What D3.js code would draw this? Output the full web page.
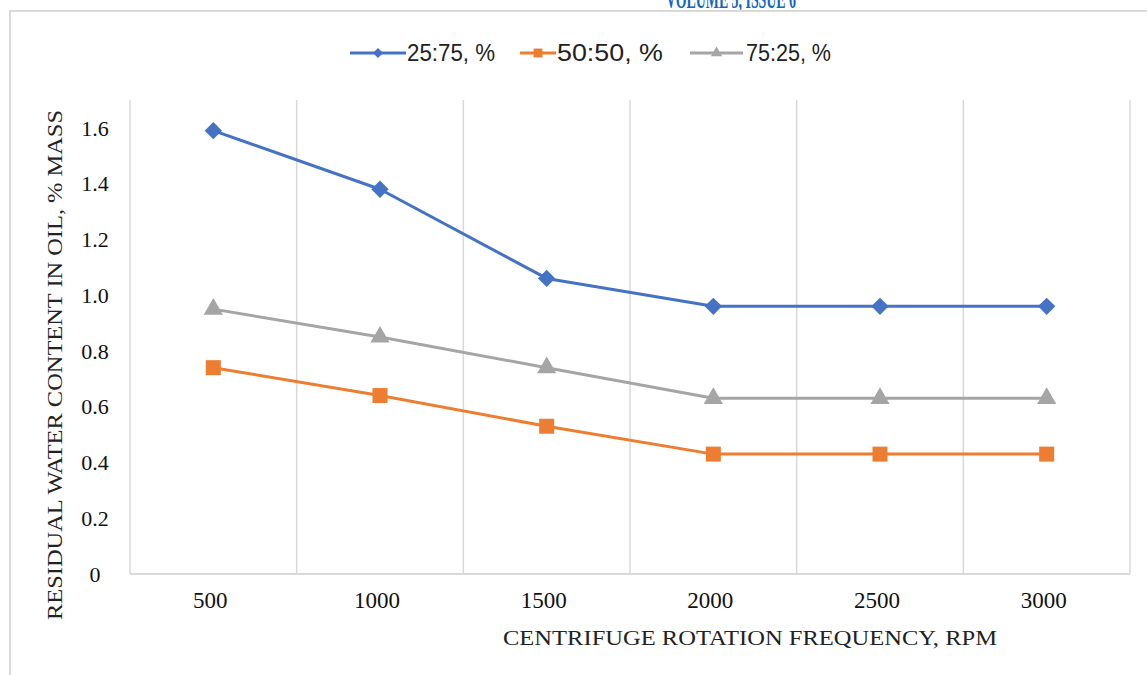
<!DOCTYPE html>
<html>
<head>
<meta charset="utf-8">
<script src="https://cdn.jsdelivr.net/npm/d3@7.9.0/dist/d3.min.js"></script>
<style>
  body { margin: 0; background: #fff; }
  svg { display: block; }
</style>
</head>
<body>
<svg id="chart" width="1147" height="675"></svg>
<script>
// rotation frequency categories (rpm)
const categories = ['500', '1000', '1500', '2000', '2500', '3000'];

// residual water content, % mass
const ratio2575 = [1.59, 1.38, 1.06, 0.96, 0.96, 0.96];
const ratio5050 = [0.74, 0.64, 0.53, 0.43, 0.43, 0.43];
const ratio7525 = [0.95, 0.85, 0.74, 0.63, 0.63, 0.63];

const seriesNames = ['25:75, %', '50:50, %', '75:25, %'];

const yTicks = [0, 0.2, 0.4, 0.6, 0.8, 1.0, 1.2, 1.4, 1.6];
const yTickLabels = ['0', '0.2', '0.4', '0.6', '0.8', '1.0', '1.2', '1.4', '1.6'];

const series = [
  { name: seriesNames[0], values: ratio2575, color: '#4472C4', shape: 'diamond' },
  { name: seriesNames[1], values: ratio5050, color: '#ED7D31', shape: 'square' },
  { name: seriesNames[2], values: ratio7525, color: '#A5A5A5', shape: 'triangle' }
];

const svg = d3.select('#chart');
const serif = '"Liberation Serif", "Times New Roman", serif';
const sans = '"Liberation Sans", Arial, sans-serif';

const plot = { left: 130, right: 1130, top: 100, bottom: 574 };

const x = d3.scaleBand().domain(categories).range([plot.left, plot.right]).padding(0);
const y = d3.scaleLinear().domain([0, 1.7]).range([plot.bottom, plot.top]);

// journal header, mostly cut off at the top of the page
svg.append('text')
  .attr('x', 731).attr('y', 8)
  .attr('text-anchor', 'middle')
  .attr('font-family', serif)
  .attr('font-weight', 'bold')
  .attr('font-size', 27)
  .attr('fill', '#1565C0')
  .attr('textLength', 130)
  .attr('lengthAdjust', 'spacingAndGlyphs')
  .text('VOLUME 5, ISSUE 6');

// chart frame (runs off the page right and bottom)
svg.append('rect')
  .attr('x', 10).attr('y', 11)
  .attr('width', 1200).attr('height', 700)
  .attr('fill', 'none')
  .attr('stroke', '#D9D9D9')
  .attr('stroke-width', 2);

// vertical gridlines on category boundaries
const bounds = categories.map(c => x(c)).concat([plot.right]);
svg.append('g')
  .selectAll('line')
  .data(bounds)
  .join('line')
  .attr('x1', d => d).attr('x2', d => d)
  .attr('y1', plot.top).attr('y2', plot.bottom)
  .attr('stroke', '#D9D9D9')
  .attr('stroke-width', 1.5);

// bottom axis line
svg.append('line')
  .attr('x1', plot.left).attr('x2', plot.right)
  .attr('y1', plot.bottom).attr('y2', plot.bottom)
  .attr('stroke', '#D9D9D9')
  .attr('stroke-width', 2);

// y tick labels
svg.append('g')
  .selectAll('text')
  .data(yTicks)
  .join('text')
  .attr('x', 95)
  .attr('y', d => y(d))
  .attr('dy', '0.35em')
  .attr('text-anchor', 'middle')
  .attr('font-family', serif)
  .attr('font-size', 22)
  .attr('fill', '#111')
  .text((d, i) => yTickLabels[i]);

// x tick labels
svg.append('g')
  .selectAll('text')
  .data(categories)
  .join('text')
  .attr('x', d => x(d) + x.bandwidth() / 2 - 3)
  .attr('y', 600)
  .attr('dy', '0.35em')
  .attr('text-anchor', 'middle')
  .attr('font-family', serif)
  .attr('font-size', 23)
  .attr('fill', '#111')
  .text(d => d);

// axis titles
svg.append('text')
  .attr('x', 750).attr('y', 645)
  .attr('text-anchor', 'middle')
  .attr('font-family', serif)
  .attr('font-size', 22)
  .attr('fill', '#222')
  .attr('textLength', 494)
  .attr('lengthAdjust', 'spacingAndGlyphs')
  .text('CENTRIFUGE ROTATION FREQUENCY, RPM');

svg.append('text')
  .attr('transform', 'translate(62,365) rotate(-90)')
  .attr('text-anchor', 'middle')
  .attr('font-family', serif)
  .attr('font-size', 22)
  .attr('fill', '#222')
  .attr('textLength', 510)
  .attr('lengthAdjust', 'spacingAndGlyphs')
  .text('RESIDUAL WATER CONTENT IN OIL, % MASS');

function symbolPath(shape, scale) {
  if (shape === 'diamond') return d3.symbol(d3.symbolSquare, 150 * scale)();
  if (shape === 'square') return d3.symbol(d3.symbolSquare, 225 * scale)();
  return d3.symbol(d3.symbolTriangle, 160 * scale)();
}

const line = d3.line()
  .x((d, i) => x(categories[i]) + x.bandwidth() / 2)
  .y(d => y(d));

// series lines and markers
series.forEach(s => {
  const g = svg.append('g');
  g.append('path')
    .datum(s.values)
    .attr('d', line)
    .attr('fill', 'none')
    .attr('stroke', s.color)
    .attr('stroke-width', 3)
    .attr('stroke-linejoin', 'round');

  g.selectAll('path.marker')
    .data(s.values)
    .join('path')
    .attr('class', 'marker')
    .attr('d', symbolPath(s.shape, 1))
    .attr('transform', (d, i) => {
      const cx = x(categories[i]) + x.bandwidth() / 2;
      const rot = s.shape === 'diamond' ? ' rotate(45)' : '';
      return `translate(${cx},${y(d)})${rot}`;
    })
    .attr('fill', s.color);
});

// legend
const legendItems = [
  { x0: 350, x1: 406, tx: 407, tw: 88 },
  { x0: 520, x1: 556, tx: 557, tw: 106 },
  { x0: 690, x1: 743, tx: 746, tw: 85 }
];
const legendY = 53;
series.forEach((s, i) => {
  const it = legendItems[i];
  const g = svg.append('g');
  g.append('line')
    .attr('x1', it.x0).attr('x2', it.x1)
    .attr('y1', legendY).attr('y2', legendY)
    .attr('stroke', s.color)
    .attr('stroke-width', 3);
  g.append('path')
    .attr('d', symbolPath(s.shape, 0.35))
    .attr('transform', `translate(${(it.x0 + it.x1) / 2},${legendY})${s.shape === 'diamond' ? ' rotate(45)' : ''}`)
    .attr('fill', s.color);
  g.append('text')
    .attr('x', it.tx).attr('y', legendY)
    .attr('dy', '0.35em')
    .attr('font-family', sans)
    .attr('font-size', 23)
    .attr('fill', '#222')
    .attr('textLength', it.tw)
    .attr('lengthAdjust', 'spacingAndGlyphs')
    .text(s.name);
});
</script>
</body>
</html>
